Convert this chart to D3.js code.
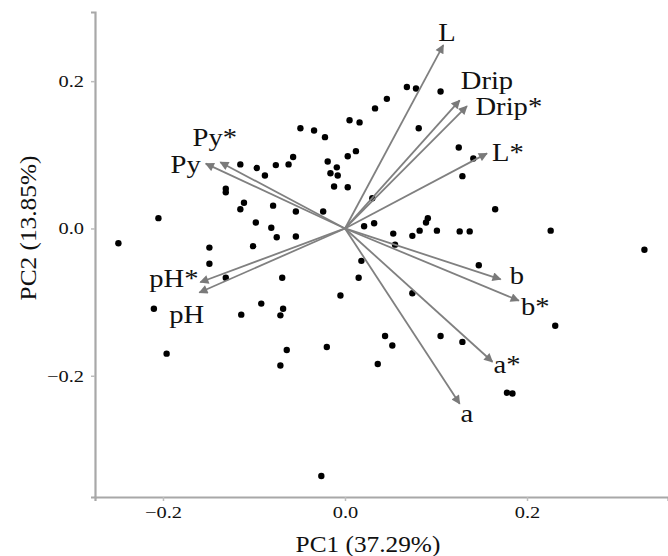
<!DOCTYPE html>
<html>
<head>
<meta charset="utf-8">
<script src="https://cdn.jsdelivr.net/npm/d3@7"></script>
<style>
  html, body { margin: 0; padding: 0; background: #fff; }
  svg { display: block; }
  text { font-family: "Liberation Serif", "Times New Roman", serif; fill: #111; }
</style>
</head>
<body>
<svg id="chart" width="668" height="556"></svg>
<script>
// ---- data: PCA scores (PC1, PC2) ----
const scoreX = [0.033,-0.049,-0.034,-0.022,0.005,0.016,0.012,0.003,-0.057,-0.062,
  -0.076,-0.088,-0.097,-0.115,-0.019,-0.009,-0.016,-0.008,-0.012,0.003,
  -0.131,-0.131,-0.111,-0.115,-0.079,-0.054,-0.024,0.030,-0.098,-0.081,
  -0.075,-0.054,-0.205,-0.249,-0.149,-0.101,0.021,0.032,-0.149,-0.131,
  -0.069,-0.210,-0.114,-0.092,-0.068,-0.071,-0.005,0.018,0.015,-0.196,
  -0.064,-0.071,-0.020,0.036,-0.026,0.068,0.078,0.105,0.046,0.081,
  0.125,0.141,0.129,0.165,0.226,0.329,0.053,0.074,0.082,0.089,
  0.091,0.101,0.126,0.137,0.055,0.147,0.074,0.231,0.044,0.052,
  0.105,0.129,0.178,0.184];
const scoreY = [0.163,0.136,0.133,0.124,0.147,0.144,0.105,0.098,0.097,0.087,
  0.086,0.072,0.082,0.087,0.091,0.083,0.075,0.072,0.057,0.056,
  0.054,0.049,0.035,0.026,0.031,0.023,0.023,0.041,0.008,0.001,
  -0.012,-0.011,0.014,-0.020,-0.026,-0.024,0.003,0.007,-0.048,-0.067,
  -0.067,-0.109,-0.117,-0.102,-0.109,-0.118,-0.091,-0.044,-0.067,-0.170,
  -0.165,-0.186,-0.161,-0.184,-0.336,0.192,0.190,0.186,0.176,0.136,
  0.110,0.095,0.071,0.026,-0.003,-0.029,-0.007,-0.010,-0.003,0.008,
  0.014,-0.003,-0.004,-0.004,-0.022,-0.050,-0.088,-0.132,-0.146,-0.159,
  -0.146,-0.154,-0.223,-0.224];

// ---- data: loadings (arrows) ----
const varNames = ["L","Drip","Drip*","L*","Py*","Py","pH*","pH","b","b*","a*","a"];
const loadX = [0.108,0.126,0.134,0.156,-0.137,-0.153,-0.159,-0.160,0.171,0.191,0.162,0.126];
const loadY = [0.249,0.174,0.166,0.102,0.090,0.088,-0.073,-0.087,-0.069,-0.098,-0.181,-0.238];
// label anchor points (data units)
const labelX = [0.112,0.156,0.180,0.179,-0.143,-0.175,-0.188,-0.174,0.189,0.209,0.178,0.134];
const labelY = [0.254,0.189,0.154,0.091,0.112,0.075,-0.079,-0.129,-0.076,-0.117,-0.196,-0.263];

// ---- tick labels / titles ----
const xTicks = [-0.2, 0.0, 0.2];
const yTicks = [-0.2, 0.0, 0.2];
const xTitle = "PC1 (37.29%)";
const yTitle = "PC2 (13.85%)";

const svg = d3.select("#chart");
svg.append("rect").attr("width", 668).attr("height", 556).attr("fill", "#fff");

const mLeft = 95, mRight = 668, mTop = 12, mBottom = 497;
const x = d3.scaleLinear().domain([-0.2747, 0.3549]).range([mLeft, mRight]);
const y = d3.scaleLinear().domain([-0.3646, 0.2939]).range([mBottom, mTop]);

function stretch(sel, f) {
  sel.each(function () {
    const w = this.getComputedTextLength();
    d3.select(this).attr("textLength", w * f).attr("lengthAdjust", "spacingAndGlyphs");
  });
}

// axes
const xAxis = svg.append("g").attr("transform", `translate(0,${mBottom})`)
  .call(d3.axisBottom(x).tickValues(xTicks).tickSize(4).tickPadding(5).tickFormat(d3.format(".1f")));
const yAxis = svg.append("g").attr("transform", `translate(${mLeft},0)`)
  .call(d3.axisLeft(y).tickValues(yTicks).tickSize(4).tickPadding(7).tickFormat(d3.format(".1f")));
[xAxis, yAxis].forEach(g => {
  g.select(".domain").attr("stroke", "#a8a8a8").attr("stroke-width", 2.2);
  g.selectAll(".tick line").attr("stroke", "#bdbdbd").attr("stroke-width", 1.5);
  g.selectAll(".tick text").attr("font-family", "Liberation Serif, serif")
    .attr("font-size", 17).attr("fill", "#222");
});
xAxis.selectAll(".tick text").call(stretch, 1.2);
yAxis.selectAll(".tick text").call(stretch, 1.2);

// titles
svg.append("text").attr("x", 368).attr("y", 552).attr("text-anchor", "middle")
  .attr("font-size", 23).text(xTitle).call(stretch, 1.1);
svg.append("text").attr("transform", "translate(36,228) rotate(-90)")
  .attr("text-anchor", "middle").attr("font-size", 23).text(yTitle).call(stretch, 1.1);

// points
svg.append("g").selectAll("circle").data(scoreX.map((v, i) => [v, scoreY[i]]))
  .join("circle")
  .attr("cx", d => x(d[0])).attr("cy", d => y(d[1])).attr("r", 3.2).attr("fill", "#000");

// arrows
const defs = svg.append("defs");
defs.append("marker").attr("id", "ah").attr("viewBox", "0 0 10 10")
  .attr("refX", 9).attr("refY", 5).attr("markerWidth", 11).attr("markerHeight", 9)
  .attr("markerUnits", "userSpaceOnUse").attr("orient", "auto")
  .append("path").attr("d", "M0,0 L10,5 L0,10 Z").attr("fill", "#7a7a7a");

const arrows = varNames.map((n, i) => ({ n, x: loadX[i], y: loadY[i], lx: labelX[i], ly: labelY[i] }));
svg.append("g").selectAll("line").data(arrows).join("line")
  .attr("x1", x(0)).attr("y1", y(0))
  .attr("x2", d => x(d.x)).attr("y2", d => y(d.y))
  .attr("stroke", "#808080").attr("stroke-width", 1.8)
  .attr("marker-end", "url(#ah)");

svg.append("g").selectAll("text").data(arrows).join("text")
  .attr("x", d => x(d.lx)).attr("y", d => y(d.ly))
  .attr("text-anchor", "middle").attr("font-size", 26).attr("fill", "#111")
  .text(d => d.n).call(stretch, 1.1);
</script>
</body>
</html>
